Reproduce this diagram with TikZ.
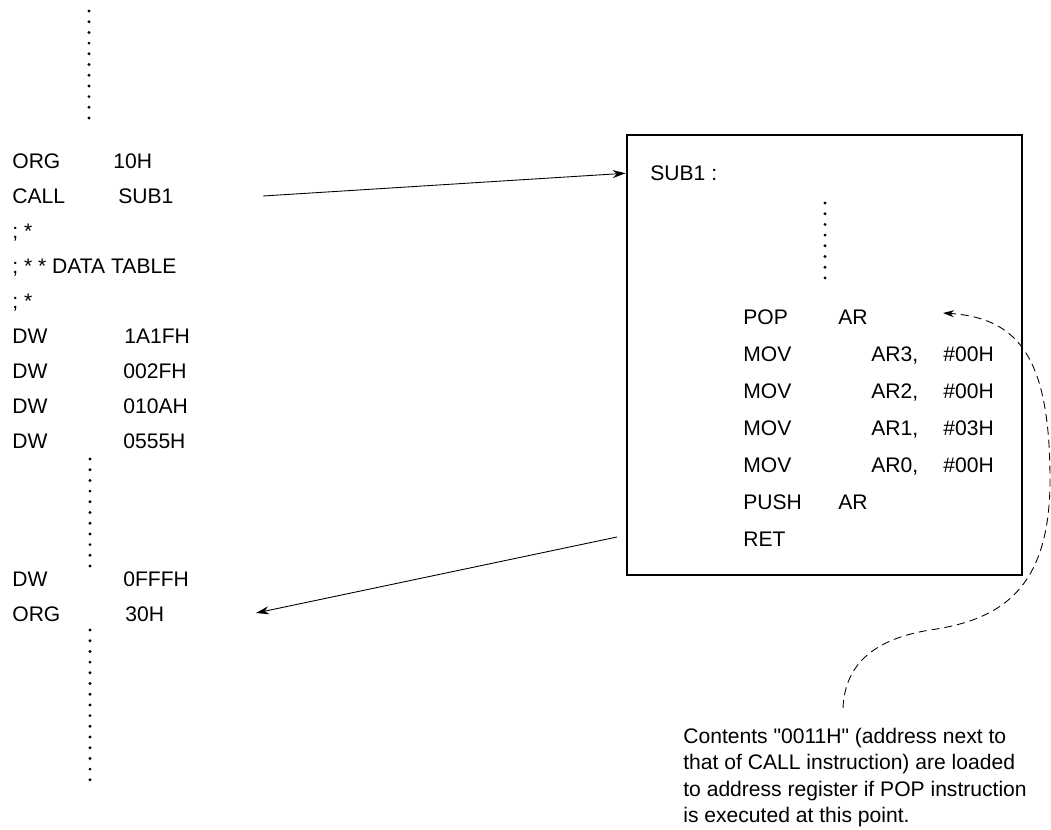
\documentclass[tikz,border=0pt]{standalone}
\usepackage{fontspec}
\newfontfamily\listfont{Liberation Sans}
\usetikzlibrary{arrows.meta}

\begin{document}
\begin{tikzpicture}[x=0.02cm, y=-0.02cm,
  code/.style={anchor=base west, inner sep=0pt, font=\listfont\fontsize{12}{14}\selectfont},
  jump/.style={-{Stealth[length=2.6mm,width=1.6mm]}, line width=0.5pt},
  hint/.style={-{Stealth[length=2.2mm,width=1.4mm]}, line width=0.5pt, dash pattern=on 1.6mm off 1mm}]
\useasboundingbox (0,0) rectangle (1051,829);

% main program
\foreach \y in {0,...,10} \fill (89,11+10.7*\y) circle (1.6);
\node[code] (org) at (12,168) {ORG};
\node[code] (orgv) at (113,168) {10H};
\node[code] (call) at (12,203) {CALL};
\node[code] (callv) at (118,203) {SUB1};
\node[code] (cma) at (12,238) {; *};
\node[code] (cmb) at (12,273) {; * * DATA TABLE};
\node[code] (cmc) at (12,308) {; *};
\node[code] (dwa) at (12,343) {DW};
\node[code] (dwav) at (124,343) {1A1FH};
\node[code] (dwb) at (12,378) {DW};
\node[code] (dwbv) at (123,378) {002FH};
\node[code] (dwc) at (12,413) {DW};
\node[code] (dwcv) at (123,413) {010AH};
\node[code] (dwd) at (12,448) {DW};
\node[code] (dwdv) at (123,448) {0555H};
\foreach \y in {0,...,10} \fill (90,459+10.7*\y) circle (1.6);
\node[code] (dwe) at (12,586) {DW};
\node[code] (dwev) at (123,586) {0FFFH};
\node[code] (orgb) at (12,621) {ORG};
\node[code] (orgbv) at (125,621) {30H};
\foreach \y in {0,...,14} \fill (90,630+10.7*\y) circle (1.6);

% subroutine
\node[draw, line width=1.6pt, inner sep=0pt, minimum width=7.9cm, minimum height=8.8cm] (sub) at (824.5,355) {};
\node[code] (sublbl) at (650,180.5) {SUB1 :};
\foreach \y in {0,...,7} \fill (825,203+10.7*\y) circle (1.6);
\node[code] (pop) at (743,324.5) {POP};
\node[code] (popv) at (838,324.5) {AR};
\node[code] (mova) at (743,361.5) {MOV};
\node[code] (movav) at (871,361.5) {AR3,};
\node[code] (movai) at (943,361.5) {\#00H};
\node[code] (movb) at (743,398.5) {MOV};
\node[code] (movbv) at (871,398.5) {AR2,};
\node[code] (movbi) at (943,398.5) {\#00H};
\node[code] (movc) at (743,435.5) {MOV};
\node[code] (movcv) at (871,435.5) {AR1,};
\node[code] (movci) at (943,435.5) {\#03H};
\node[code] (movd) at (743,472.5) {MOV};
\node[code] (movdv) at (871,472.5) {AR0,};
\node[code] (movdi) at (943,472.5) {\#00H};
\node[code] (push) at (743,509.5) {PUSH};
\node[code] (pushv) at (838,509.5) {AR};
\node[code] (ret) at (743,546.5) {RET};

% note
\node[anchor=north west, align=left, inner sep=0pt, font=\listfont\fontsize{12}{15}\selectfont] (note) at (683,728)
  {Contents "0011H" (address next to\\that of CALL instruction) are loaded\\to address register if POP instruction\\is executed at this point.};

\coordinate (callout) at (263,196);
\coordinate (retout) at (617,537);
\coordinate (retin) at (256,613);
\coordinate (hintfrom) at (843,708);
\coordinate (hintto) at (943,313);

\draw[jump] (callout) -- (sub.west |- sublbl.west);
\draw[jump] (retout) -- (retin);
\draw[hint] (hintfrom) .. controls (845,660) and (880,638) .. (930,630)
  .. controls (1000,620) and (1050,590) .. (1050,480)
  .. controls (1050,360) and (1020,318) .. (hintto);
\end{tikzpicture}
\end{document}
